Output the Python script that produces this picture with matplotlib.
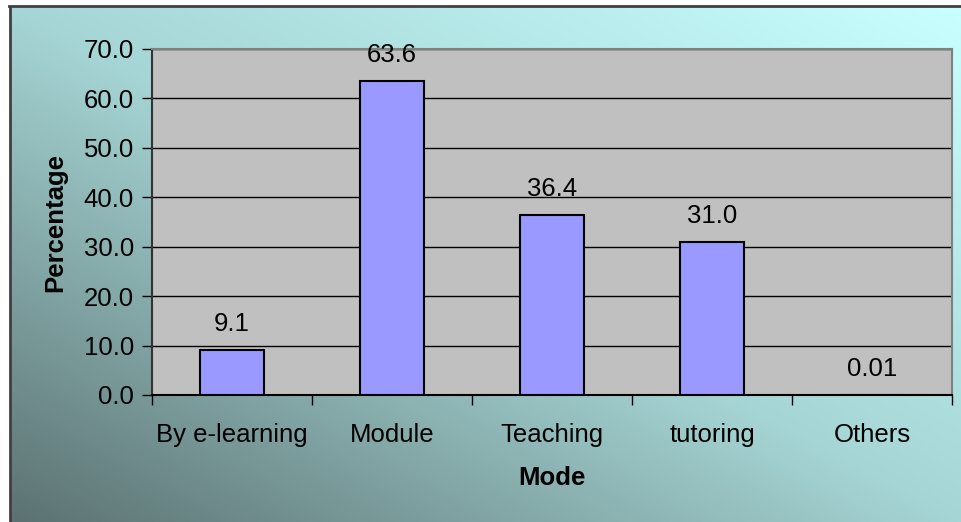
import numpy as np
import matplotlib.pyplot as plt
from matplotlib.colors import LinearSegmentedColormap

# data
modes = ["By e-learning", "Module", "Teaching", "tutoring", "Others"]
percent = [9.1, 63.6, 36.4, 31.0, 0.01]
percent_labels = ["9.1", "63.6", "36.4", "31.0", "0.01"]
yticks = [0, 10, 20, 30, 40, 50, 60, 70]

plt.rcParams['font.family'] = ['Liberation Sans', 'DejaVu Sans']
FS = 18.5

fig = plt.figure(figsize=(9.61, 5.22), dpi=100)
fig.patch.set_facecolor("white")

# gradient background (dark bottom-left -> light cyan top-right)
bg = fig.add_axes([10 / 961, 0, 951 / 961, 1 - 7 / 522])
bg.set_zorder(0)
nx, ny = 300, 200
gx, gy = np.meshgrid(np.linspace(0, 1, nx), np.linspace(0, 1, ny))
t = (gx + gy) / 2
cmap = LinearSegmentedColormap.from_list("bg", [(0, "#5c7272"), (0.5, "#a6d5d5"), (1, "#c8ffff")])
bg.imshow(t, cmap=cmap, origin="lower", aspect="auto", extent=[0, 1, 0, 1])
bg.set_xticks([])
bg.set_yticks([])
for side in ["top", "right", "bottom"]:
    bg.spines[side].set_visible(False)
bg.spines["left"].set_color("#404040")
bg.spines["left"].set_linewidth(2)
fig.add_artist(plt.Line2D([9 / 961, 1], [1 - 6 / 522, 1 - 6 / 522], color="#404040", lw=2))

ax = fig.add_axes([152 / 961, 1 - 395 / 522, 800 / 961, 346 / 522])
ax.set_zorder(1)
ax.set_facecolor("#c0c0c0")

x = np.arange(len(modes))
ax.bar(x, percent, width=0.4, color="#9999ff", edgecolor="black", linewidth=1.5, zorder=3)
for xi, v, lab in zip(x, percent, percent_labels):
    ax.annotate(lab, (xi, v), xytext=(0, 10), textcoords="offset points",
                ha="center", va="bottom", fontsize=FS)

ax.set_xlim(-0.5, len(modes) - 0.5)
ax.set_ylim(0, 70)
ax.set_yticks(yticks)
ax.set_yticklabels([f"{v:.1f}" for v in yticks], fontsize=FS)
ax.yaxis.grid(True, color="black", linewidth=1)
ax.set_axisbelow(True)

ax.set_xticks(x)
ax.set_xticklabels(modes, fontsize=FS)
ax.set_xticks(np.arange(len(modes) + 1) - 0.5, minor=True)
ax.tick_params(axis="x", which="major", length=0, pad=20)
ax.tick_params(axis="x", which="minor", length=7, width=1, direction="out")
ax.tick_params(axis="y", length=7, width=1, direction="out", pad=6)

ax.spines["left"].set_color("#333333")
ax.spines["bottom"].set_color("black")
ax.spines["top"].set_color("#808080")
ax.spines["right"].set_color("#808080")
for s in ax.spines.values():
    s.set_linewidth(1.5)

ax.set_xlabel("Mode", fontsize=FS, fontweight="bold", labelpad=14)
ax.set_ylabel("Percentage", fontsize=FS, fontweight="bold", labelpad=12)

fig.savefig("out.png", dpi=100)
